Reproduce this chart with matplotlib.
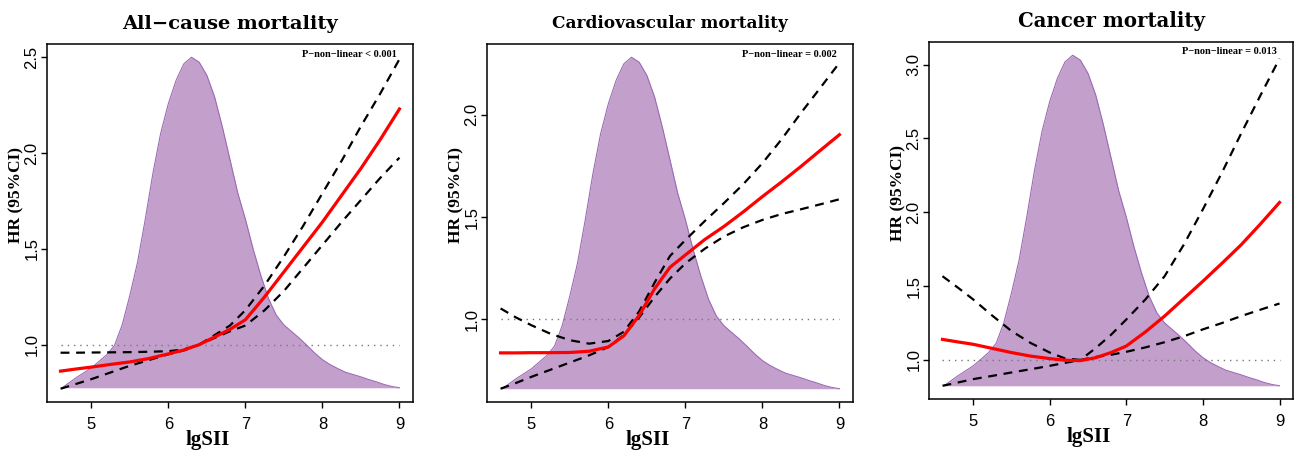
import matplotlib
matplotlib.use('Agg')
import matplotlib.pyplot as plt
from matplotlib.transforms import blended_transform_factory

# x grid shared by all fitted curves
X = [4.6, 4.8, 5.0, 5.25, 5.5, 5.75, 6.0, 6.2, 6.4, 6.6, 6.8, 7.0,
     7.25, 7.5, 7.75, 8.0, 8.25, 8.5, 8.75, 9.0]

# All-cause mortality
ALL_HR = [0.862, 0.873, 0.883, 0.897, 0.91, 0.928, 0.952, 0.972, 1.0, 1.04, 1.08, 1.13,
          1.25, 1.38, 1.51, 1.64, 1.78, 1.92, 2.07, 2.23]
ALL_UP = [0.958, 0.958, 0.959, 0.96, 0.961, 0.963, 0.966, 0.975, 1.0, 1.05, 1.10, 1.18,
          1.31, 1.46, 1.62, 1.79, 1.96, 2.14, 2.31, 2.49]
ALL_LO = [0.77, 0.795, 0.82, 0.855, 0.89, 0.92, 0.95, 0.97, 1.0, 1.035, 1.07, 1.10,
          1.18, 1.28, 1.40, 1.52, 1.64, 1.755, 1.87, 1.976]

# Cardiovascular mortality
CVD_HR = [0.837, 0.837, 0.838, 0.838, 0.839, 0.845, 0.866, 0.92, 1.02, 1.15, 1.255, 1.315,
          1.39, 1.454, 1.525, 1.60, 1.672, 1.747, 1.825, 1.902]
CVD_UP = [1.054, 1.01, 0.972, 0.93, 0.899, 0.882, 0.895, 0.94, 1.04, 1.18, 1.31, 1.388,
          1.48, 1.568, 1.66, 1.763, 1.88, 2.008, 2.13, 2.253]
CVD_LO = [0.662, 0.69, 0.72, 0.755, 0.79, 0.825, 0.866, 0.925, 1.01, 1.11, 1.20, 1.274,
          1.345, 1.405, 1.45, 1.486, 1.515, 1.538, 1.562, 1.587]

# Cancer mortality
CAN_HR = [1.139, 1.122, 1.106, 1.078, 1.05, 1.026, 1.009, 0.998, 0.995, 1.015, 1.05, 1.094,
          1.19, 1.297, 1.415, 1.533, 1.655, 1.78, 1.92, 2.066]
CAN_UP = [1.567, 1.49, 1.41, 1.30, 1.196, 1.115, 1.05, 1.01, 1.0, 1.08, 1.17, 1.274,
          1.41, 1.567, 1.78, 2.02, 2.27, 2.534, 2.79, 3.04]
CAN_LO = [0.825, 0.847, 0.87, 0.892, 0.915, 0.937, 0.96, 0.98, 1.0, 1.02, 1.035, 1.055,
          1.085, 1.12, 1.16, 1.207, 1.25, 1.297, 1.34, 1.382]

# lgSII density (relative height, same distribution in every panel)
DENS_X = [4.62, 4.8, 5.0, 5.1, 5.2, 5.3, 5.4, 5.5, 5.6, 5.7, 5.8, 5.9, 6.0, 6.1, 6.2, 6.3,
          6.4, 6.5, 6.6, 6.7, 6.8, 6.9, 7.0, 7.1, 7.2, 7.3, 7.4, 7.5, 7.6, 7.7, 7.8, 7.9,
          8.0, 8.1, 8.2, 8.3, 8.4, 8.5, 8.6, 8.7, 8.8, 8.9, 9.0]
DENS_Y = [0.0, 0.03, 0.06, 0.08, 0.10, 0.128, 0.19, 0.28, 0.38, 0.51, 0.65, 0.77, 0.86,
          0.93, 0.98, 1.0, 0.985, 0.945, 0.88, 0.79, 0.69, 0.59, 0.51, 0.42, 0.34, 0.27,
          0.22, 0.19, 0.17, 0.15, 0.128, 0.105, 0.085, 0.07, 0.058, 0.047, 0.04, 0.033,
          0.025, 0.018, 0.01, 0.004, 0.0]

TITLES = ['All\u2212cause mortality', 'Cardiovascular mortality', 'Cancer mortality']
P_TEXT = ['P\u2212non\u2212linear < 0.001', 'P\u2212non\u2212linear = 0.002',
          'P\u2212non\u2212linear = 0.013']
DENS_RANGE = [(0.775, 2.5), (0.662, 2.28), (0.825, 3.063)]
YTICKS = [[1.0, 1.5, 2.0, 2.5], [1.0, 1.5, 2.0], [1.0, 1.5, 2.0, 2.5, 3.0]]
XTICKS = [5, 6, 7, 8, 9]
CURVES = [(ALL_HR, ALL_UP, ALL_LO), (CVD_HR, CVD_UP, CVD_LO), (CAN_HR, CAN_UP, CAN_LO)]

W, H = 1295, 453
# axes boxes in pixels: left, top, right, bottom
BOXES = [(47, 44, 413, 402), (487, 44, 853, 402), (929, 42, 1293, 399)]
TITLE_Y = [24, 24, 21]
TITLE_SIZE = [14, 12.2, 14.2]

SERIF = ['Liberation Serif', 'DejaVu Serif']
WIDE_SERIF = ['DejaVu Serif']
SANS = ['Liberation Sans', 'DejaVu Sans']

fig = plt.figure(figsize=(W / 100, H / 100), dpi=100)

for i in range(3):
    l, t, r, b = BOXES[i]
    ax = fig.add_axes([l / W, 1 - b / H, (r - l) / W, (b - t) / H])
    base, peak = DENS_RANGE[i]
    dy = [base + v * (peak - base) for v in DENS_Y]
    ax.fill_between(DENS_X, base, dy, color='#C39FCC', lw=0)
    ax.plot(DENS_X, dy, color='#9D6AB5', lw=0.8)

    hr, up, lo = CURVES[i]
    ax.plot([X[0], X[-1]], [1, 1], color='#777777', lw=1.0, ls=(0, (1, 3.5)))
    ax.plot(X, up, color='black', lw=1.6, ls=(0, (4, 3)))
    ax.plot(X, lo, color='black', lw=1.6, ls=(0, (4, 3)))
    ax.plot(X, hr, color='red', lw=2.3)

    ymin = min(base, min(lo))
    ymax = max(peak, max(up))
    pad = 0.04 * (ymax - ymin)
    ax.set_ylim(ymin - pad, ymax + pad)
    ax.set_xlim(4.6 - 0.176, 9.0 + 0.176)

    ax.set_xticks(XTICKS)
    ax.set_xticklabels([str(v) for v in XTICKS], family=SANS, fontsize=12)
    ax.set_yticks(YTICKS[i])
    ax.set_yticklabels(['%.1f' % v for v in YTICKS[i]], family=SANS, fontsize=12,
                       rotation=90, va='center')
    ax.tick_params(direction='out', length=4.5, width=1)
    ax.tick_params(axis='x', pad=6)
    ax.tick_params(axis='y', pad=1)
    for s in ax.spines.values():
        s.set_linewidth(1.1)

    ax.text(0.5, 1 + (t - TITLE_Y[i]) / (b - t), TITLES[i], transform=ax.transAxes,
            ha='center', va='center', family=WIDE_SERIF, fontweight='bold',
            fontsize=TITLE_SIZE[i])
    ax.text(8.97, 0.972, P_TEXT[i],
            transform=blended_transform_factory(ax.transData, ax.transAxes),
            ha='right', va='center', family=SERIF, fontweight='bold', fontsize=7.5)

    ax.set_xlabel('lgSII', family=SERIF, fontweight='bold', fontsize=15)
    ax.xaxis.set_label_coords(0.44, -0.106)
    ax.xaxis.label.set_va('center')
    ax.set_ylabel('HR (95%CI)', family=SERIF, fontweight='bold', fontsize=12.5)
    ax.yaxis.set_label_coords(-0.084, 0.578)
    ax.yaxis.label.set_va('center')

fig.savefig('out.png', dpi=100)
